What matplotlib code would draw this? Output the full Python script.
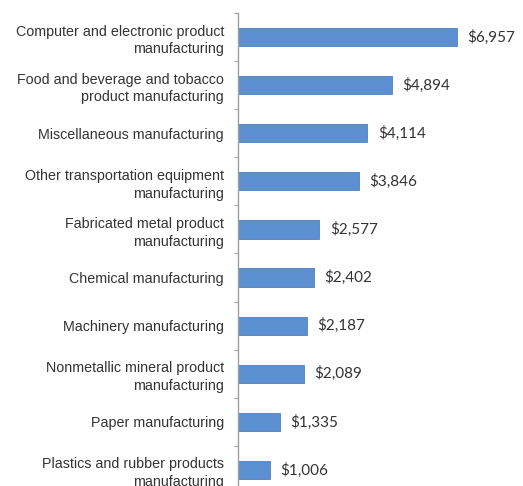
import numpy as np
import matplotlib.pyplot as plt

# categories top to bottom
categories = [
    "Computer and electronic product\nmanufacturing",
    "Food and beverage and tobacco\nproduct manufacturing",
    "Miscellaneous manufacturing",
    "Other transportation equipment\nmanufacturing",
    "Fabricated metal product\nmanufacturing",
    "Chemical manufacturing",
    "Machinery manufacturing",
    "Nonmetallic mineral product\nmanufacturing",
    "Paper manufacturing",
    "Plastics and rubber products\nmanufacturing",
]
values = [6957, 4894, 4114, 3846, 2577, 2402, 2187, 2089, 1335, 1006]
value_labels = ["$6,957", "$4,894", "$4,114", "$3,846", "$2,577",
                "$2,402", "$2,187", "$2,089", "$1,335", "$1,006"]

fig = plt.figure(figsize=(5.23, 4.86), dpi=100)
ax = fig.add_axes([238 / 523, 1 - 494 / 486, 283 / 523, 481 / 486])

y = np.arange(len(categories))
ax.barh(y, values, height=0.38, color="#5b8fcf", edgecolor="#4f80bd", linewidth=0.6)

for yi, v, lab in zip(y, values, value_labels):
    ax.text(v + 340, yi, lab, va="center", ha="left", fontsize=11,
            family="Lato", color="#333333")

ax.set_xlim(0, 9000)
ax.set_ylim(len(categories) - 0.5, -0.5)

ax.set_yticks(y)
ax.set_yticklabels(categories, fontsize=10.3, family="Liberation Sans", color="#333333",
                   linespacing=1.35)
ax.tick_params(axis="y", which="major", length=0, pad=10)
ax.set_yticks(np.arange(-0.5, len(categories), 1.0), minor=True)
ax.tick_params(axis="y", which="minor", length=3, color="#a0a0a0", width=0.8)
for lbl in ax.get_yticklabels():
    lbl.set_horizontalalignment("right")

ax.set_xticks([])
for s in ["top", "right", "bottom"]:
    ax.spines[s].set_visible(False)
ax.spines["left"].set_color("#a0a0a0")
ax.spines["left"].set_linewidth(1.0)

fig.savefig("out.png", dpi=100)
